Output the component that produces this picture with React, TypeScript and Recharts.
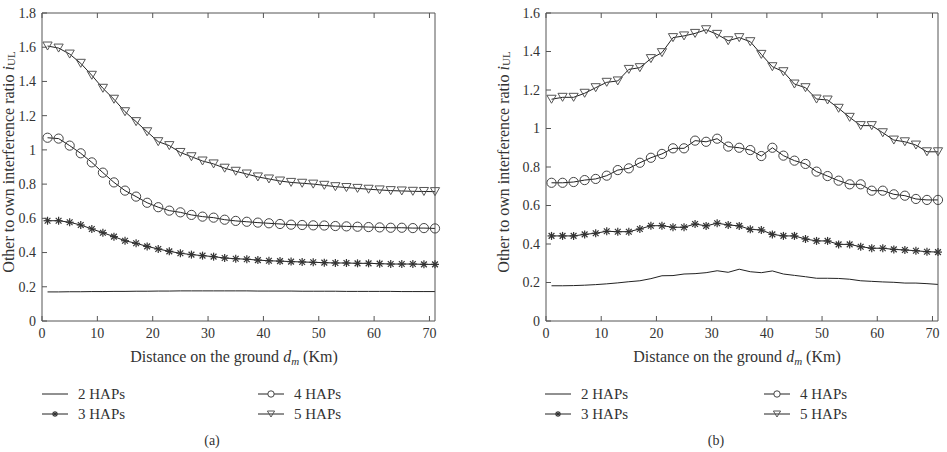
import { LineChart, Line, XAxis, YAxis } from 'recharts';

// distance on the ground (km), one sample every 2 km
const distance = [1, 3, 5, 7, 9, 11, 13, 15, 17, 19, 21, 23, 25, 27, 29, 31, 33, 35, 37, 39, 41, 43, 45, 47, 49, 51, 53, 55, 57, 59, 61, 63, 65, 67, 69, 71];

// (a) other-to-own interference ratio
const hap2A = [0.170, 0.170, 0.171, 0.171, 0.172, 0.172, 0.173, 0.173, 0.174, 0.174, 0.175, 0.175, 0.176, 0.176, 0.176, 0.176, 0.176, 0.176, 0.176, 0.175, 0.175, 0.175, 0.175, 0.174, 0.174, 0.174, 0.174, 0.173, 0.173, 0.173, 0.173, 0.173, 0.172, 0.172, 0.172, 0.172];
const hap3A = [0.586, 0.586, 0.577, 0.561, 0.538, 0.516, 0.493, 0.469, 0.454, 0.436, 0.421, 0.407, 0.396, 0.388, 0.382, 0.376, 0.368, 0.364, 0.361, 0.356, 0.352, 0.350, 0.347, 0.345, 0.343, 0.341, 0.339, 0.339, 0.337, 0.337, 0.335, 0.333, 0.333, 0.333, 0.331, 0.331];
const hap4A = [1.071, 1.066, 1.025, 0.980, 0.927, 0.867, 0.810, 0.762, 0.727, 0.691, 0.665, 0.645, 0.635, 0.620, 0.610, 0.604, 0.592, 0.585, 0.580, 0.575, 0.571, 0.567, 0.563, 0.561, 0.559, 0.558, 0.555, 0.553, 0.551, 0.549, 0.547, 0.545, 0.545, 0.543, 0.543, 0.541];
const hap5A = [1.607, 1.595, 1.560, 1.506, 1.436, 1.360, 1.296, 1.223, 1.165, 1.106, 1.048, 1.025, 0.985, 0.960, 0.935, 0.918, 0.893, 0.875, 0.859, 0.842, 0.830, 0.818, 0.810, 0.805, 0.800, 0.793, 0.785, 0.780, 0.775, 0.770, 0.766, 0.762, 0.760, 0.758, 0.757, 0.756];

// (b) other-to-own interference ratio
const hap2B = [0.183, 0.183, 0.184, 0.186, 0.189, 0.193, 0.198, 0.204, 0.209, 0.220, 0.235, 0.236, 0.244, 0.246, 0.251, 0.261, 0.253, 0.269, 0.256, 0.251, 0.260, 0.244, 0.237, 0.230, 0.222, 0.222, 0.221, 0.217, 0.209, 0.206, 0.203, 0.201, 0.197, 0.197, 0.194, 0.190];
const hap3B = [0.442, 0.442, 0.442, 0.450, 0.456, 0.466, 0.464, 0.464, 0.478, 0.495, 0.495, 0.487, 0.487, 0.504, 0.494, 0.508, 0.499, 0.494, 0.476, 0.473, 0.450, 0.442, 0.442, 0.426, 0.416, 0.416, 0.398, 0.398, 0.386, 0.378, 0.378, 0.372, 0.369, 0.365, 0.360, 0.358];
const hap4B = [0.718, 0.718, 0.722, 0.732, 0.738, 0.755, 0.784, 0.793, 0.822, 0.848, 0.868, 0.897, 0.897, 0.937, 0.931, 0.947, 0.906, 0.900, 0.888, 0.857, 0.900, 0.859, 0.833, 0.816, 0.776, 0.753, 0.729, 0.710, 0.710, 0.677, 0.677, 0.658, 0.651, 0.634, 0.629, 0.629];
const hap5B = [1.152, 1.162, 1.162, 1.183, 1.212, 1.240, 1.247, 1.307, 1.316, 1.363, 1.394, 1.472, 1.481, 1.494, 1.513, 1.489, 1.456, 1.472, 1.451, 1.385, 1.321, 1.295, 1.231, 1.212, 1.153, 1.148, 1.105, 1.058, 1.015, 1.015, 0.978, 0.940, 0.931, 0.914, 0.879, 0.879];

const xTicks = [0, 10, 20, 30, 40, 50, 60, 70];
const yTicksA = [0, 0.2, 0.4, 0.6, 0.8, 1, 1.2, 1.4, 1.6, 1.8];
const yTicksB = [0, 0.2, 0.4, 0.6, 0.8, 1, 1.2, 1.4, 1.6];

const seriesNames = ['2 HAPs', '3 HAPs', '4 HAPs', '5 HAPs'];

const FONT = '"Liberation Serif", "Times New Roman", serif';
const TEXT = '#333';
const AXIS = '#555';
const LINE = '#222';

const toRows = (h2: number[], h3: number[], h4: number[], h5: number[]) =>
  distance.map((x, i) => ({ x, h2: h2[i], h3: h3[i], h4: h4[i], h5: h5[i] }));

const dataA = toRows(hap2A, hap3A, hap4A, hap5A);
const dataB = toRows(hap2B, hap3B, hap4B, hap5B);

// ---- markers ----
function Star({ cx, cy, s = 4 }: { cx: number; cy: number; s?: number }) {
  const d = s * 0.72;
  return (
    <g stroke="#333" strokeWidth={1.2}>
      <line x1={cx - s} y1={cy} x2={cx + s} y2={cy} />
      <line x1={cx} y1={cy - s} x2={cx} y2={cy + s} />
      <line x1={cx - d} y1={cy - d} x2={cx + d} y2={cy + d} />
      <line x1={cx - d} y1={cy + d} x2={cx + d} y2={cy - d} />
    </g>
  );
}

function Tri({ cx, cy, w = 4.6, h = 4 }: { cx: number; cy: number; w?: number; h?: number }) {
  return (
    <polygon
      points={`${cx - w},${cy - h} ${cx + w},${cy - h} ${cx},${cy + h}`}
      fill="none"
      stroke="#555"
      strokeWidth={1}
    />
  );
}

const starDot = (p: any) => <Star key={`s${p.index}`} cx={p.cx} cy={p.cy} />;
const circleDot = (p: any) => (
  <circle key={`c${p.index}`} cx={p.cx} cy={p.cy} r={4.6} fill="none" stroke="#444" strokeWidth={1} />
);
const triDot = (p: any) => <Tri key={`t${p.index}`} cx={p.cx} cy={p.cy} />;

const fmt = (v: number) => String(Math.round(v * 10) / 10);

// inward ticks with labels outside
const TICK = 5;
const leftTick = (margin: number) => (p: any) => {
  const ax = p.x + margin;
  return (
    <g>
      <line x1={ax} y1={p.y} x2={ax + TICK} y2={p.y} stroke={AXIS} />
      <text x={p.x} y={p.y} dy="0.35em" textAnchor="end" fill={TEXT} fontSize={14} fontFamily={FONT}>
        {fmt(p.payload.value)}
      </text>
    </g>
  );
};
const bottomTick = (margin: number) => (p: any) => {
  const ay = p.y - margin;
  return (
    <g>
      <line x1={p.x} y1={ay} x2={p.x} y2={ay - TICK} stroke={AXIS} />
      <text x={p.x} y={p.y} dy="0.71em" textAnchor="middle" fill={TEXT} fontSize={14} fontFamily={FONT}>
        {p.payload.value}
      </text>
    </g>
  );
};
const topTick = (plotTop: number) => (p: any) => (
  <line x1={p.x} y1={plotTop} x2={p.x} y2={plotTop + TICK} stroke={AXIS} />
);
const rightTick = (plotRight: number) => (p: any) => (
  <line x1={plotRight - TICK} y1={p.y} x2={plotRight} y2={p.y} stroke={AXIS} />
);

interface PanelProps {
  data: typeof dataA;
  left: number;
  width: number;
  leftAxis: number;
  rightAxis: number;
  yMax: number;
  yTicks: number[];
}

const TOP = 13;
const HEIGHT = 345;
const BOTTOM_AXIS = 24;

function Panel({ data, left, width, leftAxis, rightAxis, yMax, yTicks }: PanelProps) {
  const plotRight = width - rightAxis;
  return (
    <div style={{ position: 'absolute', left, top: 0 }}>
      <LineChart width={width} height={HEIGHT} data={data} margin={{ top: 0, right: 0, bottom: 0, left: 0 }}>
        <XAxis
          dataKey="x"
          type="number"
          domain={[0, 71]}
          ticks={xTicks}
          height={BOTTOM_AXIS}
          stroke={AXIS}
          tickSize={0}
          tickMargin={7}
          tickLine={false}
          tick={bottomTick(7)}
        />
        <XAxis
          xAxisId="top"
          orientation="top"
          dataKey="x"
          type="number"
          domain={[0, 71]}
          ticks={xTicks}
          height={TOP}
          stroke={AXIS}
          tickLine={false}
          tick={topTick(TOP)}
        />
        <YAxis
          type="number"
          domain={[0, yMax]}
          ticks={yTicks}
          width={leftAxis}
          stroke={AXIS}
          tickSize={0}
          tickMargin={6}
          tickLine={false}
          tick={leftTick(6)}
        />
        <YAxis
          yAxisId="right"
          orientation="right"
          type="number"
          domain={[0, yMax]}
          ticks={yTicks}
          width={rightAxis}
          stroke={AXIS}
          tickLine={false}
          tick={rightTick(plotRight)}
        />
        <Line dataKey="h2" name={seriesNames[0]} stroke={LINE} strokeWidth={1} dot={false} isAnimationActive={false} />
        <Line dataKey="h3" name={seriesNames[1]} stroke={LINE} strokeWidth={1} dot={starDot} isAnimationActive={false} />
        <Line dataKey="h4" name={seriesNames[2]} stroke={LINE} strokeWidth={1} dot={circleDot} isAnimationActive={false} />
        <Line dataKey="h5" name={seriesNames[3]} stroke={LINE} strokeWidth={1} dot={triDot} isAnimationActive={false} />
      </LineChart>
    </div>
  );
}

function LegendSample({ x, y, kind }: { x: number; y: number; kind: number }) {
  const cx = x + 13;
  return (
    <g>
      <line x1={x} y1={y} x2={x + 26} y2={y} stroke={LINE} strokeWidth={1} />
      {kind === 1 && <Star cx={cx} cy={y} s={3} />}
      {kind === 2 && <circle cx={cx} cy={y} r={3.2} fill="white" stroke="#444" />}
      {kind === 3 && <Tri cx={cx} cy={y} w={3.6} h={3} />}
    </g>
  );
}

function Captions({ x0, sampleA, sampleB, axisCenter, yLabelX, caption }: {
  x0: number; sampleA: number; sampleB: number; axisCenter: number; yLabelX: number; caption: string;
}) {
  const rows = [394, 414];
  const cols = [sampleA, sampleB];
  return (
    <g fontFamily={FONT} fill={TEXT}>
      <text x={axisCenter} y={362} textAnchor="middle" fontSize={16}>
        Distance on the ground <tspan fontStyle="italic">d</tspan>
        <tspan fontStyle="italic" fontSize={11} dy={3}>m</tspan>
        <tspan dy={-3}> (Km)</tspan>
      </text>
      <text
        transform={`translate(${yLabelX}, 162) rotate(-90)`}
        textAnchor="middle"
        dominantBaseline="central"
        fontSize={16}
      >
        Other to own interference ratio <tspan fontStyle="italic">i</tspan>
        <tspan fontSize={11} dy={3}>UL</tspan>
      </text>
      {seriesNames.map((name, i) => {
        const col = cols[Math.floor(i / 2)];
        const row = rows[i % 2];
        return (
          <g key={name}>
            <LegendSample x={col} y={row} kind={i} />
            <text x={col + 36} y={row} dy="0.35em" fontSize={15}>{name}</text>
          </g>
        );
      })}
      <text x={x0} y={445} textAnchor="middle" fontSize={14}>{caption}</text>
    </g>
  );
}

export default function App() {
  return (
    <div style={{ position: 'absolute', left: 0, top: 0, width: 947, height: 452, background: '#fff', overflow: 'hidden' }}>
      <Panel data={dataA} left={0} width={470} leftAxis={42} rightAxis={35} yMax={1.8} yTicks={yTicksA} />
      <Panel data={dataB} left={480} width={467} leftAxis={66} rightAxis={9} yMax={1.6} yTicks={yTicksB} />
      <svg width={947} height={452} style={{ position: 'absolute', left: 0, top: 0, pointerEvents: 'none' }}>
        <Captions x0={212} sampleA={42} sampleB={258} axisCenter={234} yLabelX={8} caption="(a)" />
        <Captions x0={716} sampleA={545} sampleB={764} axisCenter={737} yLabelX={503} caption="(b)" />
      </svg>
    </div>
  );
}
